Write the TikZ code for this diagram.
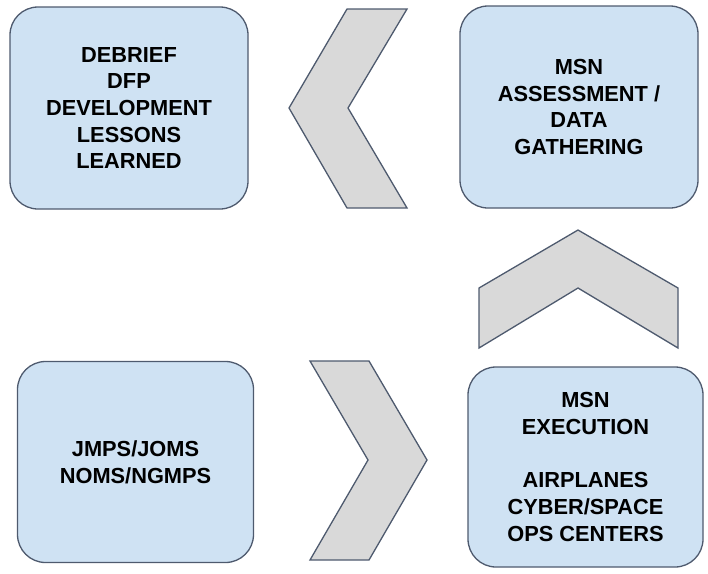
\documentclass[tikz,border=0pt]{standalone}
\usepackage{fontspec}
\setmainfont{Liberation Sans}
\definecolor{boxfill}{HTML}{CFE2F3}
\definecolor{edge}{HTML}{4E5A6E}
\definecolor{chevfill}{HTML}{D9D9D9}
\begin{document}
\begin{tikzpicture}[x=1pt,y=-1pt,
  box/.style={draw=edge,fill=boxfill,line width=1.3pt,rounded corners=28pt,
    inner sep=0pt,align=center,
    font=\fontsize{21.8}{26.7}\selectfont\bfseries},
  chev/.style={draw=edge,fill=chevfill,line width=1.3pt,line join=miter}]
\useasboundingbox (0,0) rectangle (708,573);
\node[box,minimum width=238pt,minimum height=202pt] (debrief) at (129,108)
  {DEBRIEF\\DFP\\DEVELOPMENT\\LESSONS\\LEARNED};
\node[box,minimum width=238pt,minimum height=202pt] (msn) at (579,107)
  {MSN\\ASSESSMENT /\\DATA\\GATHERING};
\node[box,minimum width=236pt,minimum height=201pt] (jmps) at (135.5,462)
  {JMPS/JOMS\\NOMS/NGMPS};
\node[box,minimum width=235pt,minimum height=200pt] (exec) at (585.5,467)
  {MSN\\EXECUTION\\[26.7pt]AIRPLANES\\CYBER/SPACE\\OPS CENTERS};
% chevrons
\draw[chev] (347,9) -- (407,9) -- (348,108) -- (407,208) -- (347,208) -- (289,108) -- cycle;
\draw[chev] (578,230) -- (678,288) -- (678,348) -- (578,288) -- (479,348) -- (479,288) -- cycle;
\draw[chev] (310,361) -- (369,361) -- (427,460) -- (369,560) -- (310,560) -- (368,460) -- cycle;
\end{tikzpicture}
\end{document}
